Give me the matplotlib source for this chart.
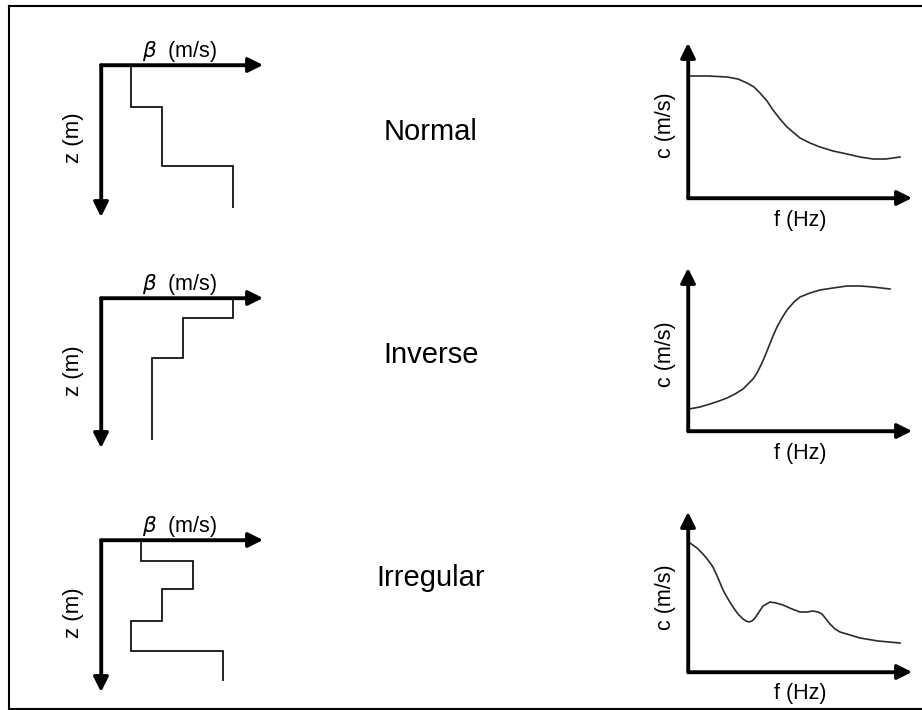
import matplotlib
matplotlib.use("Agg")
import matplotlib.pyplot as plt
from matplotlib.lines import Line2D

plt.rcParams['font.family'] = ['Liberation Sans', 'DejaVu Sans']
plt.rcParams['mathtext.fontset'] = 'dejavusans'

W, H = 922, 710

# shear-wave velocity profiles (velocity per layer, layer boundaries in depth)
names = ['Normal', 'Inverse', 'Irregular']
beta = [[30, 61, 132],
        [132, 82, 51],
        [40, 92, 61, 30, 122]]
depth = [[0, 42, 101, 143],
         [0, 20, 60, 142],
         [0, 21, 49, 81, 111, 141]]

# dispersion curves: phase velocity c against frequency f
f_normal = [2, 20, 39, 50, 59, 66, 72, 79, 85, 92, 99, 106, 112, 122, 132, 145, 159, 172, 185, 198, 212]
c_normal = [122, 122, 121, 119, 115, 111, 105, 97, 88, 79, 71, 65, 60, 55, 51, 47, 44, 41, 39, 39, 41]
f_inverse = [1, 12, 22, 31, 39, 47, 55, 60, 65, 69, 73, 77, 81, 85, 89, 94, 99, 106, 112, 122, 132, 145, 159, 172, 185, 202]
c_inverse = [22, 24, 27, 30, 33, 37, 42, 47, 52, 58, 66, 75, 85, 95, 104, 113, 121, 129, 134, 138, 141, 143, 145, 145, 144, 142]
f_irreg = [2, 9, 15, 20, 25, 30, 35, 40, 45, 50, 55, 58, 61, 64, 67, 71, 75, 82, 88, 95, 104, 112, 119, 125, 130, 134, 138, 142, 147, 152, 162, 172, 190, 212]
c_irreg = [129, 124, 118, 112, 105, 94, 82, 73, 65, 58, 53, 51, 50, 51, 54, 60, 66, 70, 69, 67, 63, 60, 60, 61, 60, 58, 53, 48, 43, 40, 37, 34, 31, 29]
curves = [(f_normal, c_normal), (f_inverse, c_inverse), (f_irreg, c_irreg)]

# panel placement in pixels: origin x, origin y, width, height
left_boxes = [(101, 65, 162, 152), (101, 298, 162, 150), (101, 540, 162, 152)]
right_boxes = [(688, 198, 224, 155), (688, 431, 224, 163), (688, 672, 224, 160)]
name_y = [132, 355, 578]

fig = plt.figure(figsize=(W / 100, H / 100), dpi=100)


def add_ax(ox, oy, w, h, down):
    # down=True: origin at top-left, axis pointing down
    if down:
        rect = [ox / W, 1 - (oy + h) / H, w / W, h / H]
    else:
        rect = [ox / W, 1 - oy / H, w / W, h / H]
    ax = fig.add_axes(rect)
    ax.set_xlim(0, w)
    if down:
        ax.set_ylim(h, 0)
    else:
        ax.set_ylim(0, h)
    ax.axis('off')
    return ax


def arrows(ax, xtip, ytip):
    ax.plot([xtip - 8, 0, 0], [0, 0, ytip - (8 if ytip > 0 else -8)],
            color='black', lw=2.4, solid_joinstyle='miter', clip_on=False)
    for tip in [(xtip, 0), (0, ytip)]:
        ax.annotate('', xy=tip, xytext=(0, 0), annotation_clip=False,
                    arrowprops=dict(arrowstyle='-|>,head_length=0.6,head_width=0.3',
                                    mutation_scale=15, lw=2.4, color='black',
                                    shrinkA=0, shrinkB=0))


for i in range(3):
    ox, oy, w, h = left_boxes[i]
    ax = add_ax(ox, oy, w, h, True)
    arrows(ax, w, h)
    ax.stairs(beta[i], depth[i], orientation='horizontal', baseline=None,
              color='black', lw=1.2, clip_on=False)
    ax.text(41, -8, r'$\beta$  (m/s)', fontsize=15.5, ha='left', va='baseline')
    ax.text(-28, 73, 'z (m)', fontsize=16, rotation=90, ha='center', va='center')

    ox, oy, w, h = right_boxes[i]
    ax = add_ax(ox, oy, w, h, False)
    arrows(ax, w, h)
    f, c = curves[i]
    ax.plot(f, c, color='#2b2b2b', lw=1.2, clip_on=False)
    ax.text(-23, h * 0.47, 'c (m/s)', fontsize=15.5, rotation=90, ha='center', va='center')
    ax.text(w / 2, -22, 'f (Hz)', fontsize=15.5, ha='center', va='center')

    fig.text(431 / W, 1 - name_y[i] / H, names[i], fontsize=21, ha='center', va='center')

# frame around the figure (right edge falls outside the canvas)
for xs, ys in [([8.5, 8.5], [6, 709]), ([8.5, 930], [6, 6]), ([8.5, 930], [709, 709])]:
    fig.add_artist(Line2D([x / W for x in xs], [1 - y / H for y in ys],
                          color='black', lw=1.5))

fig.savefig('out.png', dpi=100)
